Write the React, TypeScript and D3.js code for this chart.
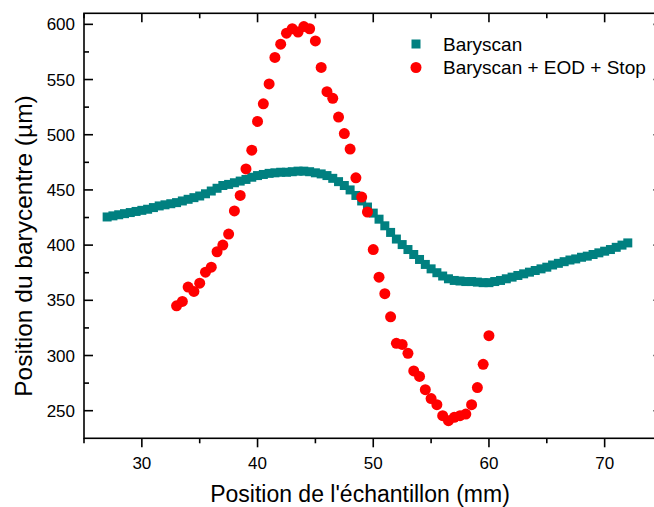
import React from "react";
import * as d3 from "d3";

const baryX: number[] = d3.range(27, 72.01, 0.5).map((v) => +v.toFixed(1));
const baryY: number[] = [
  425.5, 426.5, 427.5, 428.5, 429.5, 430.5, 431.5, 432.5, 434, 435.5,
  436.5, 437.5, 438.5, 440, 441.5, 443, 444.5, 446.5, 449, 451.5,
  454, 455, 456.5, 458, 459.5, 461.5, 463, 464, 465, 465.5,
  466, 466, 466.5, 467, 467, 466.5, 465.5, 464.5, 463, 460.5,
  457.5, 454, 450, 445, 440, 434.5, 429, 423.5, 417.5, 411.5,
  405.5, 400.5, 396, 391.5, 387, 382.5, 378.5, 375, 372, 369.5,
  368, 367.5, 367, 367, 366.5, 366, 366, 367, 368, 369.5,
  371, 372.5, 374, 375.5, 377, 378.5, 380, 382, 383.5, 385,
  386.5, 387.5, 389, 390, 391.5, 393, 394.5, 396, 398, 400,
  402,
];

const eodX: number[] = d3.range(33, 60.01, 0.5).map((v) => +v.toFixed(1));
const eodY: number[] = [
  345, 349, 362, 358, 365.5, 375.5, 380, 394, 400, 410,
  431, 445, 469, 486, 512, 528, 546, 570, 582, 592,
  596, 593, 598, 596, 585, 561, 539, 533, 516, 501,
  487, 461, 443.5, 430, 396, 371, 356, 335, 311, 310,
  302, 286, 281, 269, 261, 255.5, 245.5, 241, 244, 245.5,
  247, 255.5, 271, 292, 318,
];

const xMajor: number[] = [30, 40, 50, 60, 70];
const xMinor: number[] = [25, 35, 45, 55, 65, 75];
const yMajor: number[] = [250, 300, 350, 400, 450, 500, 550, 600];
const yMinor: number[] = [275, 325, 375, 425, 475, 525, 575];

const seriesNames: string[] = ["Baryscan", "Baryscan + EOD + Stop"];
const xTitle = "Position de l'échantillon (mm)";
const yTitle = "Position du barycentre (µm)";

const W = 654;
const H = 507;
const left = 84;
const right = 662.5;
const top = 13.3;
const bottom = 438.3;
const teal = "#008080";
const red = "#FF0000";
const font = "'Liberation Sans', Arial, sans-serif";

export default function App() {
  const x = d3.scaleLinear().domain([25, 75]).range([left, right]);
  const y = d3.scaleLinear().domain([225, 610]).range([bottom, top]);
  const sq = 9;
  const rad = 5.5;
  const major = 9;
  const minor = 5;
  return (
    <svg
      width={W}
      height={H}
      style={{ position: "absolute", left: 0, top: 0, background: "#fff" }}
      fontFamily={font}
    >
      <rect x={0} y={0} width={W} height={H} fill="#fff" />
      {baryX.map((v, i) => (
        <rect
          key={"b" + i}
          x={x(v) - sq / 2}
          y={y(baryY[i]) - sq / 2}
          width={sq}
          height={sq}
          fill={teal}
        />
      ))}
      {eodX.map((v, i) => (
        <circle key={"e" + i} cx={x(v)} cy={y(eodY[i])} r={rad} fill={red} />
      ))}
      <rect
        x={left}
        y={top}
        width={right - left}
        height={bottom - top}
        fill="none"
        stroke="#000"
        strokeWidth={1.6}
      />
      {xMajor.map((v) => (
        <g key={"xm" + v}>
          <line x1={x(v)} x2={x(v)} y1={bottom} y2={bottom + major} stroke="#000" strokeWidth={1.6} />
          <line x1={x(v)} x2={x(v)} y1={top} y2={top + major} stroke="#000" strokeWidth={1.6} />
          <text x={x(v)} y={469} textAnchor="middle" fontSize={17}>
            {v}
          </text>
        </g>
      ))}
      {xMinor.map((v) => (
        <g key={"xn" + v}>
          <line x1={x(v)} x2={x(v)} y1={bottom} y2={bottom + minor} stroke="#000" strokeWidth={1.6} />
          <line x1={x(v)} x2={x(v)} y1={top} y2={top + minor} stroke="#000" strokeWidth={1.6} />
        </g>
      ))}
      {yMajor.map((v) => (
        <g key={"ym" + v}>
          <line x1={left} x2={left + major} y1={y(v)} y2={y(v)} stroke="#000" strokeWidth={1.6} />
          <line x1={right} x2={right - major} y1={y(v)} y2={y(v)} stroke="#000" strokeWidth={1.6} />
          <text x={75} y={y(v) + 6} textAnchor="end" fontSize={17}>
            {v}
          </text>
        </g>
      ))}
      {yMinor.map((v) => (
        <g key={"yn" + v}>
          <line x1={left} x2={left + minor} y1={y(v)} y2={y(v)} stroke="#000" strokeWidth={1.6} />
          <line x1={right} x2={right - minor} y1={y(v)} y2={y(v)} stroke="#000" strokeWidth={1.6} />
        </g>
      ))}
      <text x={360} y={502} textAnchor="middle" fontSize={23}>
        {xTitle}
      </text>
      <text
        transform={`translate(32,246) rotate(-90)`}
        textAnchor="middle"
        fontSize={24.5}
      >
        {yTitle}
      </text>
      <rect x={416 - sq / 2} y={44 - sq / 2} width={sq} height={sq} fill={teal} />
      <text x={443} y={50.5} fontSize={19}>
        {seriesNames[0]}
      </text>
      <circle cx={416} cy={67.5} r={rad} fill={red} />
      <text x={443} y={74} fontSize={19}>
        {seriesNames[1]}
      </text>
    </svg>
  );
}
